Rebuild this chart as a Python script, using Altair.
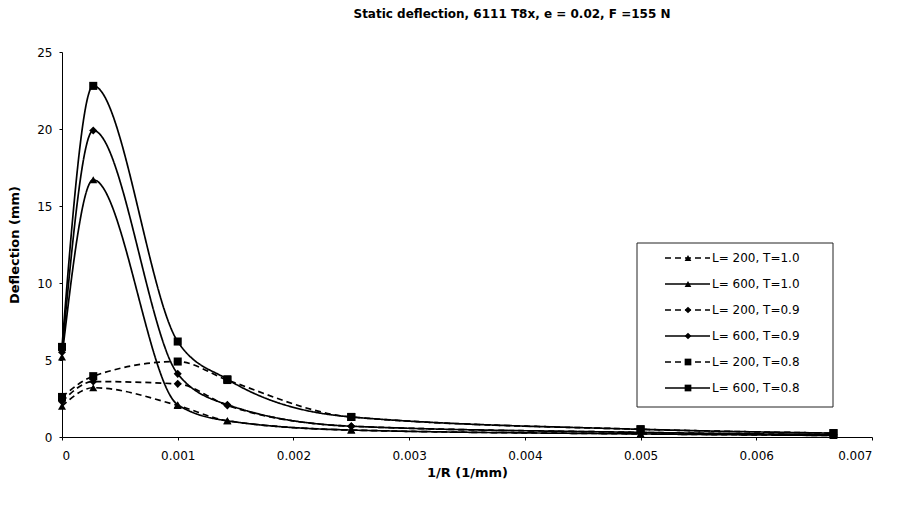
import altair as alt
import pandas as pd

# ---- data ----
x_vals = [0.0, 0.00027, 0.001, 0.001429, 0.0025, 0.005, 0.006667]

series_names = ["L= 200, T=1.0", "L= 600, T=1.0", "L= 200, T=0.9",
                "L= 600, T=0.9", "L= 200, T=0.8", "L= 600, T=0.8"]
series_L = ["200", "600", "200", "600", "200", "600"]
series_T = ["1.0", "1.0", "0.9", "0.9", "0.8", "0.8"]

y_L200_T10 = [2.0, 3.2, 2.05, 1.05, 0.45, 0.2, 0.1]
y_L600_T10 = [5.2, 16.7, 2.1, 1.05, 0.45, 0.2, 0.1]
y_L200_T09 = [2.3, 3.6, 3.45, 2.05, 0.7, 0.3, 0.15]
y_L600_T09 = [5.5, 19.9, 4.1, 2.1, 0.7, 0.3, 0.15]
y_L200_T08 = [2.6, 3.95, 4.9, 3.7, 1.3, 0.5, 0.25]
y_L600_T08 = [5.85, 22.8, 6.2, 3.75, 1.3, 0.5, 0.25]

series_values = [y_L200_T10, y_L600_T10, y_L200_T09, y_L600_T09, y_L200_T08, y_L600_T08]

x_ticks = [0, 0.001, 0.002, 0.003, 0.004, 0.005, 0.006, 0.007]
y_ticks = [0, 5, 10, 15, 20, 25]

title_text = "Static deflection, 6111 T8x, e = 0.02, F =155 N"
x_title = "1/R (1/mm)"
y_title = "Deflection (mm)"

# ---- build tables ----
rows = []
for name, L, T, ys in zip(series_names, series_L, series_T, series_values):
    for i, (xv, yv) in enumerate(zip(x_vals, ys)):
        rows.append({"x": xv, "y": yv, "series": name, "L": L, "T": T, "order": i})
df = pd.DataFrame(rows)
leg_df = pd.DataFrame({"series": series_names, "L": series_L, "T": series_T})
box_df = pd.DataFrame({"a": [0]})

FONT = "DejaVu Sans"
W, H = 810, 385

dash_scale = alt.Scale(domain=["200", "600"], range=[[6, 4], [1, 0]])
shape_scale = alt.Scale(domain=["1.0", "0.9", "0.8"],
                        range=["triangle-up", "diamond", "square"])

x_enc = alt.X("x:Q", scale=alt.Scale(domain=[0, 0.007], nice=False),
              axis=alt.Axis(values=x_ticks, title=x_title,
                            labelExpr="datum.value == 0 ? '0' : format(datum.value, '.3f')",
                            grid=False, tickSize=3, labelPadding=10,
                            titleY=35, titleBaseline="middle"))
y_enc = alt.Y("y:Q", scale=alt.Scale(domain=[0, 25], nice=False),
              axis=alt.Axis(values=y_ticks, title=y_title, grid=False,
                            tickSize=3, labelPadding=7,
                            titleX=-48, titleY=H / 2, titleBaseline="middle"))

lines = alt.Chart(df).mark_line(interpolate="monotone", color="black", strokeWidth=1.7).encode(
    x=x_enc, y=y_enc,
    detail="series:N",
    strokeDash=alt.StrokeDash("L:N", scale=dash_scale, legend=None),
    order="order:Q",
)
points = alt.Chart(df).mark_point(filled=True, color="black", opacity=1, size=65).encode(
    x="x:Q", y="y:Q",
    shape=alt.Shape("T:N", scale=shape_scale, legend=None),
)
main = alt.layer(lines, points)

# ---- legend drawn as a layer ----
leg_y = alt.Y("series:N", scale=alt.Scale(type="point", domain=series_names,
                                          range=[206, 336], padding=0), axis=None)
box = alt.Chart(box_df).mark_rect(fill="white", stroke="#222", strokeWidth=1).encode(
    x=alt.value(575), x2=alt.value(771), y=alt.value(191), y2=alt.value(355))
leg_lines = alt.Chart(leg_df).mark_rule(color="black", strokeWidth=1.5).encode(
    x=alt.value(603), x2=alt.value(648), y=leg_y,
    strokeDash=alt.StrokeDash("L:N", scale=dash_scale, legend=None))
leg_points = alt.Chart(leg_df).mark_point(filled=True, color="black", opacity=1, size=45).encode(
    x=alt.value(626), y=leg_y,
    shape=alt.Shape("T:N", scale=shape_scale, legend=None))
leg_text = alt.Chart(leg_df).mark_text(align="left", baseline="middle", font=FONT,
                                       fontSize=12, color="black").encode(
    x=alt.value(650), y=leg_y, text="series:N")
legend = alt.layer(box, leg_lines, leg_points, leg_text)

chart = alt.layer(main, legend).resolve_scale(y="independent").properties(
    width=W, height=H,
    background="white",
    title=alt.TitleParams(title_text, font=FONT, fontSize=12, fontWeight="bold",
                          anchor="middle", frame="group", offset=25, dx=45, color="black"),
    autosize=alt.AutoSizeParams(type="none"),
    padding={"left": 54, "top": 44, "right": 15, "bottom": 60},
).configure_view(stroke=None).configure_axis(
    domainColor="black", tickColor="black", labelColor="black", titleColor="black",
    labelFont=FONT, titleFont=FONT, labelFontSize=12, titleFontSize=13,
    titleFontWeight="bold", domainWidth=1,
)

chart.save("out.html", embed_options={"renderer": "svg", "actions": False})
